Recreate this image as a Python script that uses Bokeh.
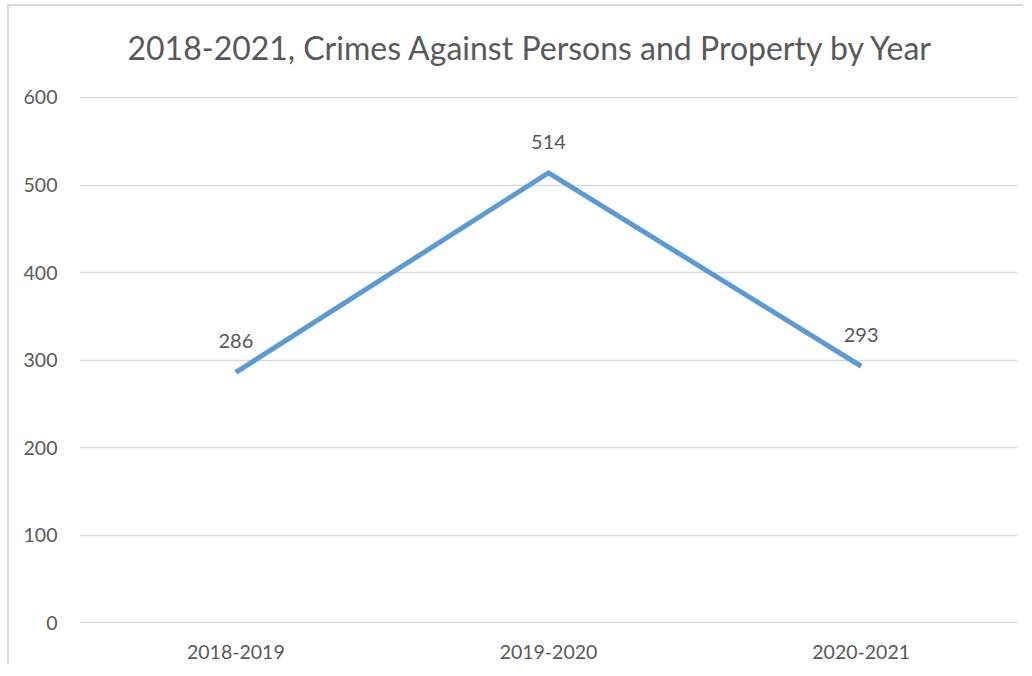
from bokeh.plotting import figure
from bokeh.models import FactorRange, Range1d, FixedTicker, ColumnDataSource
from bokeh.embed import file_html
from bokeh.resources import INLINE
from bokeh.core.properties import value

periods = ["2018-2019", "2019-2020", "2020-2021"]
crimes = [286, 514, 293]
y_ticks = [0, 100, 200, 300, 400, 500, 600]
title_text = "2018-2021, Crimes Against Persons and Property by Year"

FONT = "Lato"
GREY = "#595959"

p = figure(
    width=1016, height=660,
    x_range=FactorRange(*periods, range_padding=0),
    y_range=Range1d(-2, 613.7),
    output_backend="svg", toolbar_location=None,
    min_border_left=70, min_border_right=8,
    min_border_top=10, min_border_bottom=42,
)
p.styles = {"margin-left": "7px", "margin-top": "4px",
            "border-left": "2px solid #d9d9d9", "border-top": "2px solid #d9d9d9"}

p.title.text = title_text
p.title.align = "left"
p.title.offset = 48
p.title.text_font = FONT
p.title.text_font_size = "32px"
p.title.text_font_style = "normal"
p.title.text_color = GREY
p.title.standoff = 38

p.outline_line_color = None
p.xgrid.grid_line_color = None
p.ygrid.grid_line_color = "#d9d9d9"
p.ygrid.grid_line_width = 1.5

p.yaxis.ticker = FixedTicker(ticks=y_ticks)
for ax in (p.xaxis[0], p.yaxis[0]):
    ax.axis_line_color = None
    ax.major_tick_line_color = None
    ax.minor_tick_line_color = None
    ax.major_label_text_font = FONT
    ax.major_label_text_color = GREY
    ax.major_label_text_font_size = "19.5px"
p.yaxis.major_label_standoff = 16
p.xaxis.major_label_standoff = 14

src = ColumnDataSource(dict(x=periods, y=crimes, lab=[str(v) for v in crimes]))
p.line("x", "y", source=src, line_color="#5B9BD5", line_width=5, line_join="round")
p.text("x", "y", text="lab", source=src, y_offset=-31, text_align="center",
       text_baseline="middle", text_font=value(FONT), text_font_size="20px",
       text_color=GREY)

open("out.html", "w").write(file_html(p, INLINE))
